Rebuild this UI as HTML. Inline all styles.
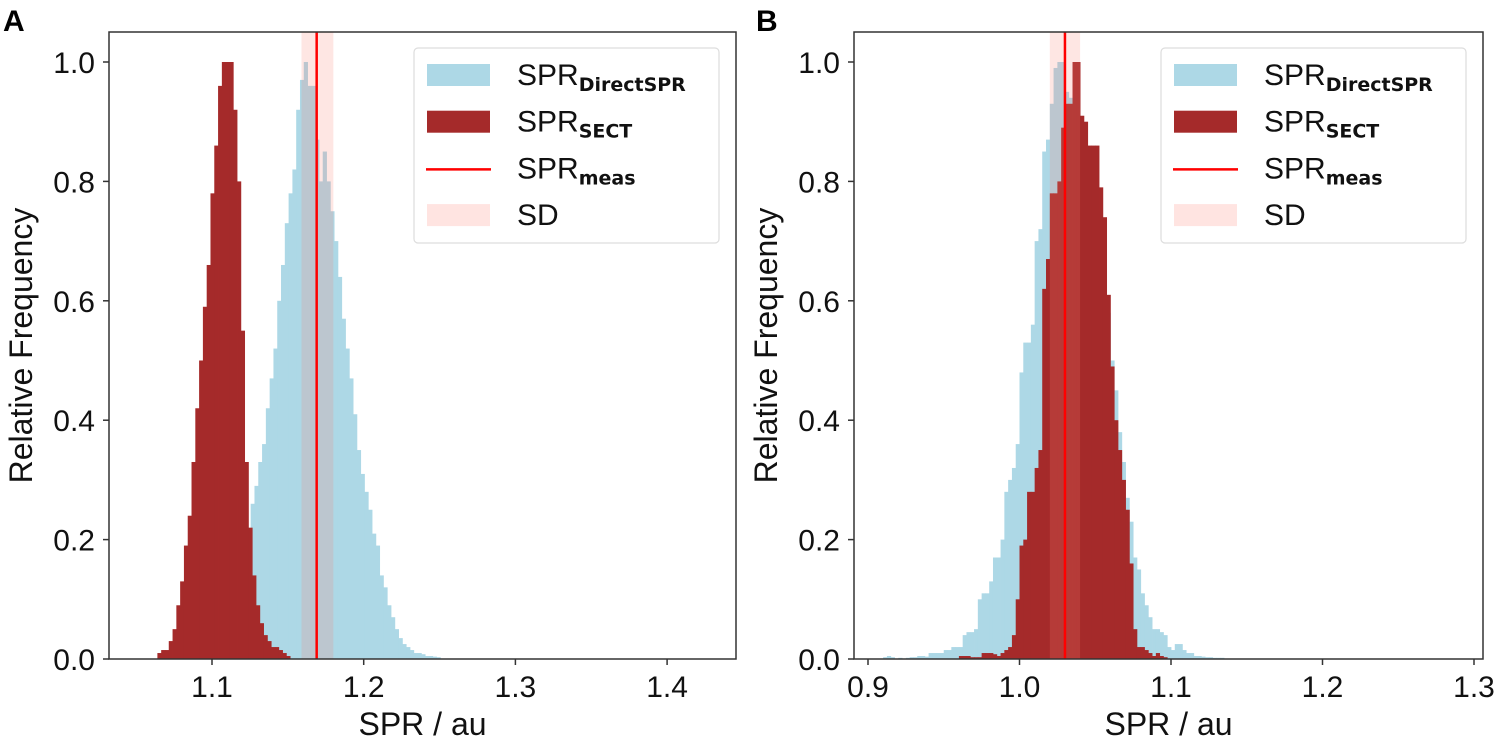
<!DOCTYPE html>
<html><head><meta charset="utf-8"><style>
html,body{margin:0;padding:0;background:#fff;}
svg{display:block;font-family:"Liberation Sans",Arial,sans-serif;}
</style></head><body>
<svg id="chart" width="1500" height="744" viewBox="0 0 1500 744" xmlns="http://www.w3.org/2000/svg"></svg>
<script>
// ---- data: panel A ----
const binWidthA = 0.0025;
const sectStartA = 1.064;
const sectValuesA = [0.01,0.015,0.015,0.03,0.05,0.09,0.13,0.19,0.24,0.33,0.42,0.5,0.59,0.66,0.78,0.86,0.96,1.0,1.0,1.0,0.92,0.8,0.55,0.33,0.22,0.14,0.09,0.06,0.04,0.03,0.02,0.02,0.015,0.01,0.005];
const directStartA = 1.118;
const directValuesA = [0.03,0.12,0.2,0.26,0.29,0.33,0.36,0.42,0.47,0.52,0.6,0.66,0.73,0.78,0.82,0.92,0.97,1.0,0.96,0.96,0.87,0.8,0.85,0.8,0.75,0.7,0.64,0.57,0.52,0.47,0.41,0.35,0.31,0.28,0.25,0.21,0.19,0.14,0.12,0.09,0.07,0.05,0.035,0.025,0.02,0.015,0.01,0.01,0.008,0.005,0.005,0.004,0.003];
const measA = 1.169, sdLowA = 1.159, sdHighA = 1.180;
const xTicksA = [1.1,1.2,1.3,1.4];
// ---- data: panel B ----
const binWidthB = 0.0025;
const sectStartB = 0.96;
const sectValuesB = [0.005,0.005,0.005,0.003,0.003,0.003,0.01,0.01,0.01,0.008,0.005,0.01,0.015,0.02,0.04,0.1,0.19,0.2,0.28,0.28,0.32,0.35,0.62,0.67,0.78,0.78,0.8,0.89,0.93,0.93,1.0,1.0,0.91,0.9,0.86,0.86,0.86,0.79,0.74,0.61,0.49,0.4,0.35,0.3,0.25,0.16,0.05,0.02,0.02,0.015,0.01,0.005,0.01,0.005,0.003];
const directStartB = 0.91;
const directValuesB = [0.003,0.005,0.003,0,0.002,0,0.002,0.003,0.003,0.005,0.005,0.004,0.01,0.01,0.01,0.01,0.015,0.015,0.02,0.02,0.02,0.04,0.045,0.045,0.05,0.1,0.11,0.11,0.13,0.17,0.17,0.2,0.28,0.3,0.32,0.36,0.48,0.53,0.53,0.56,0.7,0.72,0.85,0.87,0.93,0.99,1.0,1.0,0.95,0.94,0.9,0.87,0.85,0.82,0.8,0.77,0.75,0.7,0.65,0.58,0.5,0.45,0.38,0.33,0.27,0.23,0.17,0.15,0.11,0.09,0.07,0.05,0.05,0.045,0.04,0.02,0.015,0.025,0.025,0.015,0.01,0.01,0.005,0.005,0.004,0.003,0.003,0.002,0.002,0.002];
const measB = 1.03, sdLowB = 1.02, sdHighB = 1.04;
const xTicksB = [0.9,1.0,1.1,1.2,1.3];
const yTicks = [0.0,0.2,0.4,0.6,0.8,1.0];
const yTickLabels = ["0.0","0.2","0.4","0.6","0.8","1.0"];

const NS = "http://www.w3.org/2000/svg";
const svg = document.getElementById('chart');
function mk(tag, attrs, parent){
  const e = document.createElementNS(NS, tag);
  for (const k in attrs) e.setAttribute(k, attrs[k]);
  (parent||svg).appendChild(e);
  return e;
}

function panel(cfg){
  const g = mk('g', {});
  
  
  const L = cfg.left, R = cfg.right, T = 32, B = 659;
  const xs = v => cfg.x0px + (v - cfg.x0val) * cfg.pxPer;
  const ys = v => B - v * 597;
  const cid = 'clip-' + cfg.name;
  const defs = mk('defs', {}, g);
  const cp = mk('clipPath', {id: cid}, defs);
  mk('rect', {x: L, y: T, width: R - L, height: B - T}, cp);
  const plot = mk('g', {'clip-path': 'url(#' + cid + ')'}, g);
  
  

  function hist(start, w, vals, color, nm){
    const hg = mk('g', {}, plot);
    
    
    vals.forEach((v, i) => {
      if (v <= 0) return;
      const x1 = xs(start + i * w), x2 = xs(start + (i + 1) * w);
      const r = mk('rect', {x: x1, y: ys(v), width: x2 - x1 + 0.4, height: B - ys(v), fill: color}, hg);
      
      
    });
  }
  hist(cfg.dStart, cfg.w, cfg.dVals, '#add8e6', 'histogram-directspr');
  hist(cfg.sStart, cfg.w, cfg.sVals, '#a52a2a', 'histogram-sect');
  const band = mk('rect', {x: xs(cfg.sdLo), y: T, width: xs(cfg.sdHi) - xs(cfg.sdLo), height: B - T, fill: '#fa8072', 'fill-opacity': 0.2}, plot);
  
  
  const ml = mk('line', {x1: xs(cfg.meas), x2: xs(cfg.meas), y1: T, y2: B, stroke: '#ff0000', 'stroke-width': 2.5}, plot);
  
  

  const fr = mk('rect', {x: L, y: T, width: R - L, height: B - T, fill: 'none', stroke: '#333', 'stroke-width': 1.5}, g);
  
  

  yTicks.forEach((v, i) => {
    const y = ys(v);
    mk('line', {x1: L - 6, x2: L, y1: y, y2: y, stroke: '#333', 'stroke-width': 1.5}, g);
    const t = mk('text', {x: L - 14, y: y + 11, 'text-anchor': 'end', 'font-size': 30, fill: '#111'}, g);
    t.textContent = yTickLabels[i];
    
    
  });
  cfg.xTicks.forEach(v => {
    const x = xs(v);
    mk('line', {x1: x, x2: x, y1: B, y2: B + 6, stroke: '#333', 'stroke-width': 1.5}, g);
    const t = mk('text', {x: x, y: B + 38, 'text-anchor': 'middle', 'font-size': 30, fill: '#111'}, g);
    t.textContent = v.toFixed(1);
    
    
  });
  const xt = mk('text', {x: (L + R) / 2, y: 735, 'text-anchor': 'middle', 'font-size': 32, fill: '#111'}, g);
  xt.textContent = 'SPR / au';
  
  
  const yt = mk('text', {x: 0, y: 0, 'text-anchor': 'middle', 'font-size': 32, fill: '#111', transform: 'translate(' + (L - 77) + ',' + ((T + B) / 2) + ') rotate(-90)'}, g);
  yt.textContent = 'Relative Frequency';
  
  
  const pl = mk('text', {x: cfg.letterX, y: 31, 'font-size': 30, 'font-weight': 'bold', fill: '#000'}, g);
  pl.textContent = cfg.letter;
  
  

  const lx = R - 322, ly = 48;
  const lg = mk('g', {}, g);
  
  
  mk('rect', {x: lx, y: ly, width: 305, height: 195, rx: 4, fill: '#fff', 'fill-opacity': 0.85, stroke: '#ddd', 'stroke-width': 1.2}, lg);
  const items = [
    {sub: 'DirectSPR', kind: 'patch', color: '#add8e6', nm: 'legend-entry-directspr'},
    {sub: 'SECT', kind: 'patch', color: '#a52a2a', nm: 'legend-entry-sect'},
    {sub: 'meas', kind: 'line', color: '#ff0000', nm: 'legend-entry-meas'},
    {sub: '', kind: 'patch', color: '#ffe4e1', nm: 'legend-entry-sd'}
  ];
  items.forEach((it, i) => {
    const cy = ly + 27 + i * 46.7;
    const eg = mk('g', {}, lg);
    
    
    if (it.kind === 'patch') mk('rect', {x: lx + 13, y: cy - 11, width: 63, height: 22, fill: it.color}, eg);
    else mk('line', {x1: lx + 12, x2: lx + 77, y1: cy + 1, y2: cy + 1, stroke: it.color, 'stroke-width': 2.5}, eg);
    const t = mk('text', {x: lx + 103, y: cy + 10, 'font-size': 30, fill: '#111'}, eg);
    if (it.sub) {
      t.appendChild(document.createTextNode('SPR'));
      const ts = mk('tspan', {'font-family': '"DejaVu Sans",sans-serif', 'font-weight': 'bold', 'font-size': 19, dy: 6}, t);
      ts.textContent = it.sub;
    } else {
      t.textContent = 'SD';
    }
  });
}

panel({name: 'panel-a', letter: 'A', letterX: 3, left: 109, right: 736, x0px: 212, x0val: 1.1, pxPer: 1517,
  w: binWidthA, sStart: sectStartA, sVals: sectValuesA, dStart: directStartA, dVals: directValuesA,
  meas: measA, sdLo: sdLowA, sdHi: sdHighA, xTicks: xTicksA});
panel({name: 'panel-b', letter: 'B', letterX: 756, left: 854, right: 1483, x0px: 868, x0val: 0.9, pxPer: 1515,
  w: binWidthB, sStart: sectStartB, sVals: sectValuesB, dStart: directStartB, dVals: directValuesB,
  meas: measB, sdLo: sdLowB, sdHi: sdHighB, xTicks: xTicksB});
</script>
</body></html>
